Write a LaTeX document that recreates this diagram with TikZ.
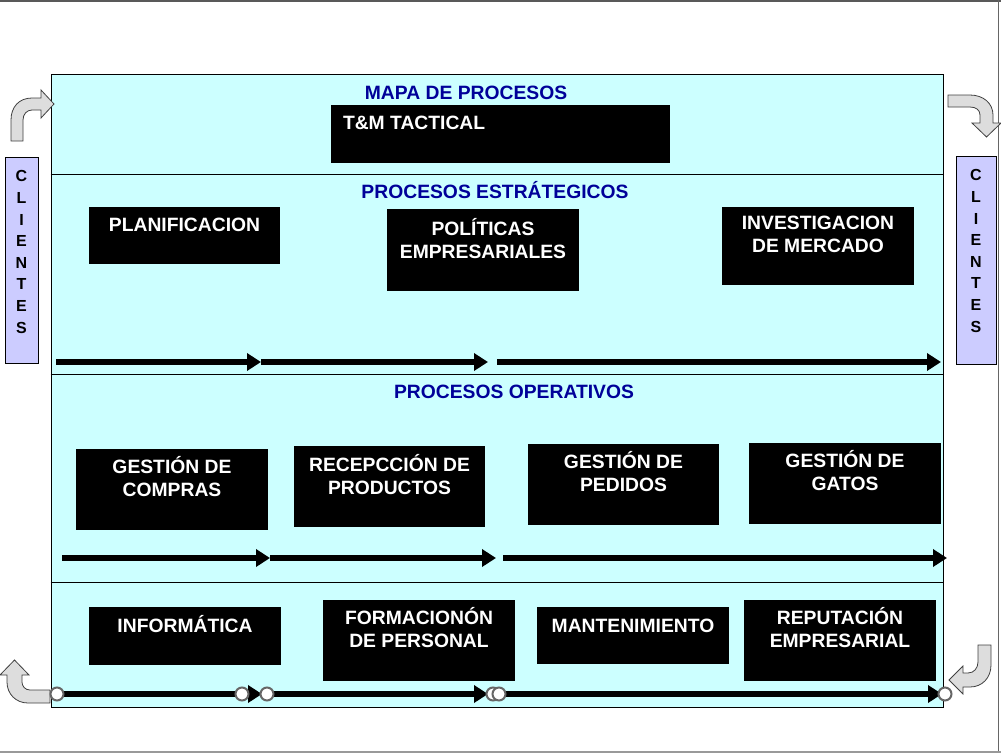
\documentclass[tikz,border=0pt]{standalone}
\usepackage{fontspec}
\setmainfont{Liberation Sans}
\usetikzlibrary{arrows.meta}
\definecolor{panel}{HTML}{CCFFFF}
\definecolor{navy}{HTML}{000099}
\definecolor{lav}{HTML}{CCCCFF}
\definecolor{bendfill}{HTML}{DDDDDD}
\definecolor{portgray}{HTML}{666666}
\begin{document}
\begin{tikzpicture}[x=1pt,y=-1pt,
  procbox/.style={fill=black, inner sep=0pt},
  boxtext/.style={text=white, font=\bfseries\fontsize{19.3}{23}\selectfont, align=center, inner sep=0pt, anchor=north, execute at begin node={\rule{0pt}{19pt}}},
  heading/.style={text=navy, font=\bfseries\fontsize{19.3}{23}\selectfont, anchor=base, inner sep=0pt},
  clientbox/.style={fill=lav, draw=black, line width=0.8pt, inner sep=0pt, minimum width=33pt, minimum height=206pt},
  clienttext/.style={font=\bfseries\fontsize{16}{21.6}\selectfont, align=center, inner sep=0pt, anchor=north, execute at begin node={\rule{0pt}{14pt}}},
  flow/.style={line width=5.5pt, -{Triangle[length=14pt,width=17pt]}},
  port/.style={circle, fill=white, draw=portgray, line width=2pt, minimum size=13pt, inner sep=0pt},
  bentarrow/.style={fill=bendfill, draw=gray!50!black, line width=0.8pt, line join=miter}
]
\useasboundingbox (0,0) rectangle (1001,753);
% outer frame
\draw[gray!70!black, line width=2pt] (0,1) -- (1001,1);
\draw[gray!80!black, line width=1.5pt] (998.5,0) -- (998.5,753);
\draw[gray!80, line width=1.5pt] (0,752) -- (1001,752);

% main panel
\node[draw=black, fill=panel, line width=0.8pt, minimum width=892pt, minimum height=633pt, inner sep=0pt] (panel) at (497,390.5) {};
\draw[line width=0.8pt] (panel.west |- 0,174) -- (panel.east |- 0,174);
\draw[line width=0.8pt] (panel.west |- 0,374) -- (panel.east |- 0,374);
\draw[line width=0.8pt] (panel.west |- 0,582) -- (panel.east |- 0,582);

% headings
\node[heading] (h0) at (466,99) {MAPA DE PROCESOS};
\node[heading] (h1) at (495,198) {PROCESOS ESTRÁTEGICOS};
\node[heading] (h2) at (514,398) {PROCESOS OPERATIVOS};

% process boxes
\node[procbox, minimum width=339pt, minimum height=58pt] (tmt) at (500.5,134) {};
\node[boxtext, anchor=north west, align=left] at ([xshift=12pt, yshift=-5.6pt]tmt.north west) {T\&M TACTICAL};

\node[procbox, minimum width=191pt, minimum height=57pt] (plan) at (184.5,235.5) {};
\node[boxtext] at ([yshift=-5.6pt]plan.north) {PLANIFICACION};

\node[procbox, minimum width=192pt, minimum height=82pt] (pol) at (483,250) {};
\node[boxtext] at ([yshift=-9.6pt]pol.north) {POLÍTICAS\\EMPRESARIALES};

\node[procbox, minimum width=192pt, minimum height=78pt] (inv) at (818,246) {};
\node[boxtext] at ([yshift=-8.6pt]inv.north) {INVESTIGACION\\DE MERCADO};

\node[procbox, minimum width=192pt, minimum height=81pt] (comp) at (172,489.5) {};
\node[boxtext] at ([yshift=-7.6pt]comp.north) {GESTIÓN DE\\COMPRAS};

\node[procbox, minimum width=191pt, minimum height=81pt] (rec) at (389.5,486.5) {};
\node[boxtext] at ([yshift=-8.6pt]rec.north) {RECEPCCIÓN DE\\PRODUCTOS};

\node[procbox, minimum width=191pt, minimum height=81pt] (ped) at (623.5,484.5) {};
\node[boxtext] at ([yshift=-7.6pt]ped.north) {GESTIÓN DE\\PEDIDOS};

\node[procbox, minimum width=192pt, minimum height=81pt] (gat) at (845,483.5) {};
\node[boxtext] at ([yshift=-7.6pt]gat.north) {GESTIÓN DE\\GATOS};

\node[procbox, minimum width=192pt, minimum height=58pt] (inf) at (185,636) {};
\node[boxtext] at ([yshift=-6.6pt]inf.north) {INFORMÁTICA};

\node[procbox, minimum width=192pt, minimum height=81pt] (form) at (419,640.5) {};
\node[boxtext] at ([yshift=-7.6pt]form.north) {FORMACIONÓN\\DE PERSONAL};

\node[procbox, minimum width=192pt, minimum height=57pt] (mant) at (633,635.5) {};
\node[boxtext] at ([yshift=-6.6pt]mant.north) {MANTENIMIENTO};

\node[procbox, minimum width=192pt, minimum height=81pt] (rep) at (840,640.5) {};
\node[boxtext] at ([yshift=-7.6pt]rep.north) {REPUTACIÓN\\EMPRESARIAL};

% clientes
\node[clientbox] (cl) at (21.5,260) {};
\node[clienttext] at ([yshift=-14pt]cl.north) {C\\L\\I\\E\\N\\T\\E\\S};
\node[clientbox, minimum width=40pt, minimum height=208pt] (cr) at (976,260) {};
\node[clienttext] at ([yshift=-14pt]cr.north) {C\\L\\I\\E\\N\\T\\E\\S};

% bent arrows
\draw[bentarrow] (11,141) -- (11,120) .. controls (11,107) and (19,98) .. (32,98) -- (41,98) -- (41,90) -- (54,104) -- (41,118) -- (41,110) -- (32,110) .. controls (27,110) and (23,114) .. (23,120) -- (23,141) -- cycle;
\draw[bentarrow] (948,95) -- (970,95) .. controls (983,95) and (993,103) .. (993,115) -- (993,123) -- (1001,123) -- (986.5,137) -- (972,123) -- (980,123) -- (980,115) .. controls (980,110) and (976,107) .. (970,107) -- (948,107) -- cycle;
\draw[bentarrow] (978,645) -- (978,662) .. controls (978,668) and (974,673) .. (968,673) -- (963,673) -- (963,666) -- (949,680) -- (963,694) -- (963,687) -- (970,687) .. controls (982,687) and (991,678) .. (991,665) -- (991,645) -- cycle;
\draw[bentarrow] (50,690) -- (30,690) .. controls (25,690) and (22,686) .. (22,682) -- (22,675) -- (29,675) -- (14.5,660) -- (0,675) -- (7,675) -- (7,682) .. controls (7,694) and (16,703) .. (28,703) -- (50,703) -- cycle;

% flow arrows row 1
\coordinate (r1a) at (56,362);
\coordinate (r1b) at (261,362);
\coordinate (r1c) at (488,362);
\coordinate (r1d) at (497,362);
\coordinate (r1e) at (941,362);
\draw[flow] (r1a) -- (r1b);
\draw[flow] (r1b) -- (r1c);
\draw[flow] (r1d) -- (r1e);

% flow arrows row 2
\coordinate (r2a) at (62,558);
\coordinate (r2b) at (270,558);
\coordinate (r2c) at (496,558);
\coordinate (r2d) at (503,558);
\coordinate (r2e) at (947,558);
\draw[flow] (r2a) -- (r2b);
\draw[flow] (r2b) -- (r2c);
\draw[flow] (r2d) -- (r2e);

% flow arrows row 3 with ports
\coordinate (r3a) at (57,694);
\coordinate (r3b) at (262,694);
\coordinate (r3c) at (267,694);
\coordinate (r3d) at (488,694);
\coordinate (r3e) at (499,694);
\coordinate (r3f) at (942,694);
\draw[flow] (r3a) -- (r3b);
\draw[flow] (r3c) -- (r3d);
\draw[flow] (r3e) -- (r3f);
\node[port] (p1) at (r3a) {};
\node[port] (p2) at (242,694) {};
\node[port] (p3) at (r3c) {};
\node[port] (p4) at (493,694) {};
\node[port] (p5) at (r3e) {};
\node[port] (p6) at (945,694) {};
\end{tikzpicture}
\end{document}
